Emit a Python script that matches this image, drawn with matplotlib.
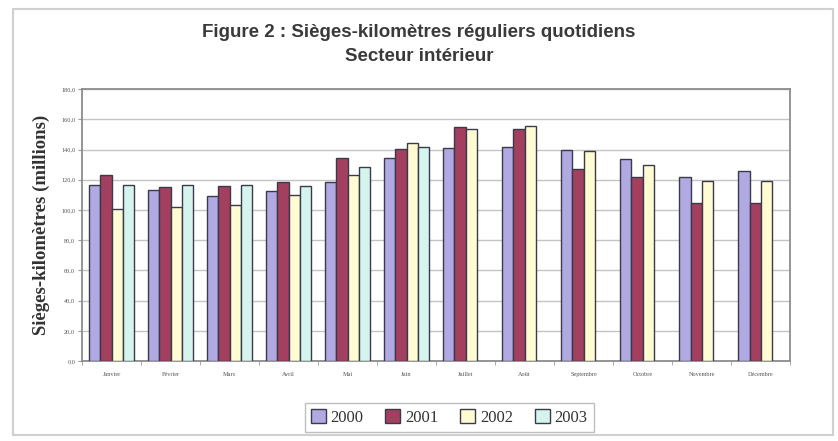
import numpy as np
import matplotlib.pyplot as plt
from matplotlib.patches import Rectangle

# Monthly daily scheduled seat-kilometres, domestic sector (millions)
mois = ["Janvier", "Février", "Mars", "Avril", "Mai", "Juin", "Juillet",
        "Août", "Septembre", "Octobre", "Novembre", "Décembre"]
annees = ["2000", "2001", "2002", "2003"]

v2000 = [116.5, 113.0, 109.0, 112.5, 118.5, 134.5, 141.0, 141.5, 140.0, 134.0, 122.0, 125.5]
v2001 = [123.0, 115.0, 116.0, 118.5, 134.5, 140.5, 155.0, 153.5, 127.0, 122.0, 104.5, 104.5]
v2002 = [101.0, 102.0, 103.0, 110.0, 123.0, 144.5, 153.5, 155.5, 139.0, 130.0, 119.5, 119.5]
v2003 = [116.5, 116.5, 116.5, 116.0, 128.5, 141.5, None, None, None, None, None, None]

series = [v2000, v2001, v2002, v2003]
colors = ["#b0a9e2", "#a3405f", "#fffbd2", "#d6f4ee"]

fig = plt.figure(figsize=(8.38, 4.41), dpi=100)
fig.patch.set_facecolor("white")

# chart frame around everything
fig.patches.append(Rectangle((0.0155, 0.0136), 0.978, 0.966, transform=fig.transFigure,
                             fill=False, edgecolor="#d0d0d0", linewidth=1.5))

ax = fig.add_axes([0.098, 0.181, 0.845, 0.617])

x = np.arange(len(mois))
width = 0.19
for i, (vals, col, lab) in enumerate(zip(series, colors, annees)):
    pos = [xi + (i - 1.5) * width for xi, v in zip(x, vals) if v is not None]
    hts = [v for v in vals if v is not None]
    ax.bar(pos, hts, width=width, color=col, edgecolor="#3a3a4a",
           linewidth=1.0, label=lab, zorder=3)

ax.set_xlim(-0.5, len(mois) - 0.5)
ax.set_ylim(0, 180)
ax.set_yticks(np.arange(0, 181, 20))
ax.set_yticklabels([f"{t:.1f}".replace(".", ",") for t in range(0, 181, 20)],
                   fontsize=4.5, family="Liberation Serif", color="#555555")
ax.set_xticks(x)
ax.set_xticklabels(mois, fontsize=4.5, family="Liberation Serif", color="#555555")
ax.set_xticks(np.arange(-0.5, len(mois)), minor=True)
ax.tick_params(axis="x", which="major", length=0, pad=8)
ax.tick_params(axis="x", which="minor", length=3, color="#999999")
ax.tick_params(axis="y", length=3, color="#999999", pad=2)

ax.yaxis.grid(True, color="#c4c4c4", linewidth=1.0, zorder=0)
ax.set_axisbelow(True)
for s in ax.spines.values():
    s.set_color("#8c8c8c")
    s.set_linewidth(1.3)

ax.set_ylabel("Sièges-kilomètres (millions)", fontsize=13.5, fontweight="bold",
              family="Liberation Serif", color="#333333", labelpad=8)

fig.text(0.5, 0.927, "Figure 2 : Sièges-kilomètres réguliers quotidiens",
         ha="center", va="center", fontsize=13.5, fontweight="bold",
         family="Liberation Sans", color="#3a3a3a")
fig.text(0.5, 0.872, "Secteur intérieur", ha="center", va="center",
         fontsize=13.5, fontweight="bold", family="Liberation Sans", color="#3a3a3a")

leg = fig.legend(loc="center", bbox_to_anchor=(0.536, 0.053), ncol=4,
                 prop={"family": "Liberation Serif", "size": 12},
                 frameon=True, fancybox=False, edgecolor="#b0b0b0",
                 handlelength=0.9, handleheight=0.9, handletextpad=0.3,
                 columnspacing=1.3, borderpad=0.35)
leg.get_frame().set_linewidth(1.0)
for t in leg.get_texts():
    t.set_color("#333333")

fig.savefig("out.png", dpi=100)
